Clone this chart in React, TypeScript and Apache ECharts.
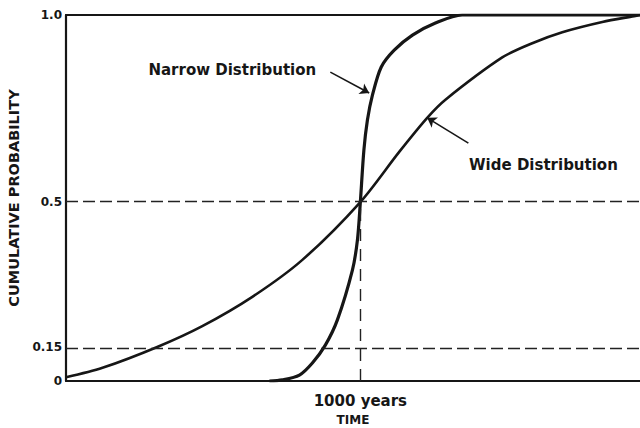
import React, { useEffect, useRef } from "react";
import * as echarts from "echarts";

const wideX = [0, 124, 310, 463, 633, 803, 1000, 1132, 1227, 1288, 1482, 1584, 1686, 1822, 1930, 1950];
const wideY = [0.01, 0.036, 0.093, 0.15, 0.23, 0.331, 0.489, 0.626, 0.719, 0.768, 0.884, 0.923, 0.953, 0.981, 0.997, 1.0];

const narrowX = [691, 735, 793, 837, 881, 922, 973, 990, 1000, 1012, 1024, 1041, 1071, 1115, 1177, 1255, 1346, 1950];
const narrowY = [0, 0.003, 0.016, 0.049, 0.098, 0.167, 0.303, 0.385, 0.489, 0.631, 0.713, 0.781, 0.858, 0.904, 0.945, 0.978, 1.0, 1.0];

// y-axis tick positions on the drawn (schematic) scale and their printed labels
const yTickValues = [0, 0.093, 0.489, 1.0];
const yTickLabels = ["0", "0.15", "0.5", "1.0"];

const xTickValues = [1000];
const xTickLabels = ["1000 years"];

// annotation anchors (data coords)
const narrowLabel = { text: "Narrow Distribution", at: [565, 0.85], arrowFrom: [898, 0.844], arrowTo: [1030, 0.787] };
const wideLabel = { text: "Wide Distribution", at: [1622, 0.59], arrowFrom: [1367, 0.65], arrowTo: [1227, 0.719] };

const FONT = "DejaVu Sans";
const INK = "#161616";

export default function App() {
  const ref = useRef<HTMLDivElement>(null);
  useEffect(() => {
    if (!ref.current) return;
    const chart = echarts.init(ref.current, null, { renderer: "svg" });
    const zip = (xs: number[], ys: number[]) => xs.map((x, i) => [x, ys[i]]);
    const dash = { color: "#222", width: 1.4, type: [12, 5] as any };
    const labelText = (t: string, at: number[]) => ({
      coord: at,
      symbol: "rect",
      symbolSize: 1,
      itemStyle: { color: "rgba(0,0,0,0)" },
      label: {
        show: true,
        position: "inside",
        formatter: t,
        color: INK,
        fontFamily: FONT,
        fontWeight: "bold",
        fontSize: 15,
      },
    });
    chart.setOption({
      animation: false,
      backgroundColor: "#ffffff",
      grid: { left: 66, right: 0, top: 15, bottom: 47, containLabel: false, outerBoundsMode: "none" },
      xAxis: [
        {
          type: "value",
          min: 0,
          max: 1950,
          position: "bottom",
          axisLine: { show: true, lineStyle: { color: INK, width: 2.2 } },
          axisTick: { show: false },
          splitLine: { show: false },
          axisLabel: {
            customValues: xTickValues,
            formatter: (v: number) => xTickLabels[xTickValues.indexOf(v)] ?? "",
            color: INK,
            fontFamily: FONT,
            fontWeight: "bold",
            fontSize: 15,
            margin: 12,
          },
          name: "TIME",
          nameLocation: "middle",
          nameGap: 33,
          nameTextStyle: { color: INK, fontFamily: FONT, fontWeight: "bold", fontSize: 12 },
        },
        {
          type: "value",
          min: 0,
          max: 1950,
          position: "top",
          axisLine: { show: true, lineStyle: { color: INK, width: 2.2 } },
          axisTick: { show: false },
          axisLabel: { show: false },
          splitLine: { show: false },
        },
      ],
      yAxis: {
        type: "value",
        min: 0,
        max: 1,
        axisLine: { show: true, lineStyle: { color: INK, width: 2.2 } },
        axisTick: { show: false },
        splitLine: { show: false },
        axisLabel: {
          customValues: yTickValues,
          formatter: (v: number) => {
            let best = 0;
            yTickValues.forEach((t, i) => {
              if (Math.abs(t - v) < Math.abs(yTickValues[best] - v)) best = i;
            });
            return yTickLabels[best];
          },
          color: INK,
          fontFamily: FONT,
          fontWeight: "bold",
          fontSize: 12,
          margin: 4,
        },
        name: "CUMULATIVE PROBABILITY",
        nameLocation: "middle",
        nameRotate: 90,
        nameGap: 37,
        nameTextStyle: { color: INK, fontFamily: FONT, fontWeight: "bold", fontSize: 14.5 },
      },
      series: [
        {
          type: "line",
          name: "Wide Distribution",
          data: zip(wideX, wideY),
          smooth: 0.3,
          showSymbol: false,
          lineStyle: { color: INK, width: 2.6 },
          silent: true,
          markLine: {
            silent: true,
            symbol: ["none", "none"],
            label: { show: false },
            lineStyle: dash,
            data: [
              { yAxis: yTickValues[2] },
              { yAxis: yTickValues[1] },
              [
                { coord: [1000, 0], lineStyle: { ...dash, type: [12, 8] } },
                { coord: [1000, yTickValues[2]] },
              ],
            ],
          },
        },
        {
          type: "line",
          name: "Narrow Distribution",
          data: zip(narrowX, narrowY),
          smooth: 0.3,
          showSymbol: false,
          lineStyle: { color: INK, width: 3.2 },
          silent: true,
          markLine: {
            silent: true,
            symbol: ["none", "arrow"],
            symbolSize: 9,
            label: { show: false },
            lineStyle: { color: INK, width: 1.6, type: "solid" },
            data: [
              [{ coord: narrowLabel.arrowFrom }, { coord: narrowLabel.arrowTo }],
              [{ coord: wideLabel.arrowFrom }, { coord: wideLabel.arrowTo }],
            ],
          },
          markPoint: {
            silent: true,
            data: [labelText(narrowLabel.text, narrowLabel.at), labelText(wideLabel.text, wideLabel.at)],
          },
        },
      ],
    });
    return () => chart.dispose();
  }, []);
  return (
    <div
      ref={ref}
      style={{ position: "absolute", left: 0, top: 0, width: 640, height: 428, background: "#fff" }}
    />
  );
}
